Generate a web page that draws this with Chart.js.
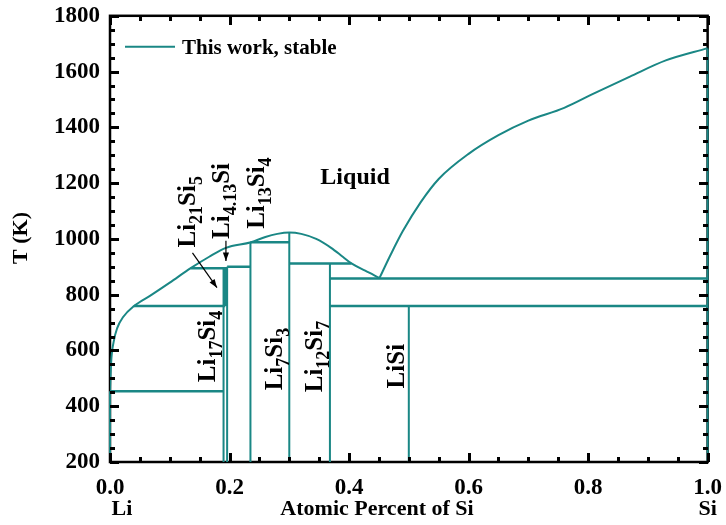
<!DOCTYPE html>
<html>
<head>
<meta charset="utf-8">
<script src="https://cdn.jsdelivr.net/npm/chart.js@4"></script>
<style>
  html, body { margin: 0; padding: 0; background: #fff; }
  #wrap { width: 726px; height: 525px; }
</style>
</head>
<body>
<div id="wrap"><canvas id="chart"></canvas></div>
<script>
// Li-Si phase diagram

const liqLiX = [0, 0.002, 0.006, 0.012, 0.022, 0.04, 0.07, 0.1, 0.135, 0.166, 0.194, 0.236, 0.26, 0.28, 0.3, 0.32, 0.345, 0.37, 0.39, 0.404, 0.427, 0.451];
const liqLiT = [454, 560, 630, 680, 720, 759, 800, 843, 895, 936, 968, 988, 1007, 1018, 1023, 1018, 1000, 968, 935, 912, 886, 860];

const liqSiX = [0.451, 0.47, 0.49, 0.52, 0.55, 0.6, 0.65, 0.7, 0.76, 0.81, 0.87, 0.93, 1.0];
const liqSiT = [860, 945, 1028, 1132, 1215, 1305, 1372, 1424, 1470, 1522, 1582, 1640, 1684];

// invariant lines
const isoT    = [454, 759, 895, 900, 988, 912, 858, 759];
const isoFrom = [0, 0.04, 0.135, 0.196, 0.235, 0.30, 0.368, 0.368];
const isoTo   = [0.19, 0.193, 0.196, 0.235, 0.30, 0.404, 1.0, 1.0];

// compound / element lines
const compX   = [0, 0.190, 0.196, 0.235, 0.300, 0.368, 0.500, 1.0];
const compLow = [200, 200, 200, 200, 200, 200, 200, 200];
const compTop = [454, 895, 900, 988, 1023, 912, 759, 1683];

const thickX = [0.193];
const thickLow = [759];
const thickTop = [895];

// phase labels (_n = subscript)
const phaseLabels = ['Li_21Si_5', 'Li_4.13Si', 'Li_13Si_4', 'Li_17Si_4', 'Li_7Si_3', 'Li_12Si_7', 'LiSi'];
const phaseX = [0.143, 0.199, 0.257, 0.176, 0.287, 0.354, 0.492];
const phaseT = [969, 1000, 1036, 486, 457, 450, 464];

const arrowFromX = [0.138, 0.194];
const arrowFromT = [950, 993];
const arrowToX   = [0.179, 0.194];
const arrowToT   = [825, 921];

const xTicks = [0, 0.2, 0.4, 0.6, 0.8, 1.0];
const yTicks = [200, 400, 600, 800, 1000, 1200, 1400, 1600, 1800];
const xMinorStep = 0.05;
const yMinorStep = 50;

const TEAL = '#1a8785';
const FONT = '"Liberation Serif", "DejaVu Serif", serif';

function pts(xs, ys) {
  return xs.map((x, i) => ({ x: x, y: ys[i] }));
}

function segments(from, to, y0, y1) {
  const out = [];
  from.forEach((a, i) => {
    out.push({ x: a, y: y0[i] });
    out.push({ x: to[i], y: y1[i] });
    out.push({ x: to[i], y: null });
  });
  return out;
}

const liquidus = pts(liqLiX, liqLiT).concat([{ x: 0.451, y: null }], pts(liqSiX, liqSiT));

const datasets = [
  {
    label: 'This work, stable',
    data: liquidus,
    borderColor: TEAL,
    borderWidth: 2,
    cubicInterpolationMode: 'monotone',
    pointRadius: 0,
    spanGaps: false
  },
  {
    label: 'comp',
    data: segments(compX, compX, compLow, compTop),
    borderColor: TEAL,
    borderWidth: 2,
    tension: 0,
    pointRadius: 0,
    spanGaps: false,
    clip: false
  },
  {
    label: 'iso',
    data: segments(isoFrom, isoTo, isoT, isoT),
    borderColor: TEAL,
    borderWidth: 2.5,
    tension: 0,
    pointRadius: 0,
    spanGaps: false
  },
  {
    label: 'thick',
    data: segments(thickX, thickX, thickLow, thickTop),
    borderColor: TEAL,
    borderWidth: 4,
    tension: 0,
    pointRadius: 0,
    spanGaps: false
  }
];

function drawSubText(ctx, str, size) {
  // splits "Li_21Si_5" into normal / subscript runs
  const parts = str.split(/_([0-9.]+)/);
  let x = 0;
  parts.forEach((p, i) => {
    if (!p) return;
    const sub = i % 2 === 1;
    ctx.font = 'bold ' + (sub ? Math.round(size * 0.7) : size) + 'px ' + FONT;
    ctx.fillText(p, x, sub ? size * 0.28 : 0);
    x += ctx.measureText(p).width;
  });
}

function drawTicks(chart) {
  const c = chart.ctx;
  const a = chart.chartArea;
  const xs = chart.scales.x, ys = chart.scales.y;
  c.save();
  c.fillStyle = 'rgb(0,0,0)';
  const nx = Math.round(1 / xMinorStep);
  for (let i = 0; i <= nx; i++) {
    const px = Math.round(xs.getPixelForValue(i * xMinorStep));
    const len = i % 4 === 0 ? 9 : 5;
    c.fillRect(px - 1, Math.round(a.bottom) - len, 3, len);
    c.fillRect(px - 1, Math.round(a.top), 3, len);
  }
  const ny = Math.round(1600 / yMinorStep);
  for (let j = 0; j <= ny; j++) {
    const py = Math.round(ys.getPixelForValue(200 + j * yMinorStep));
    const len = j % 4 === 0 ? 9 : 5;
    c.fillRect(Math.round(a.left), py - 1, len, 3);
    c.fillRect(Math.round(a.right) - len, py - 1, len, 3);
  }
  c.restore();
}

const framePlugin = {
  id: 'frame',
  beforeDatasetsDraw(chart) {
    const c = chart.ctx;
    const a = chart.chartArea;
    c.save();
    c.strokeStyle = '#000';
    c.lineWidth = 2.5;
    c.strokeRect(a.left, a.top, a.right - a.left, a.bottom - a.top);
    c.restore();
    drawTicks(chart);
  },
  afterDatasetsDraw(chart) {
    const ctx = chart.ctx;
    const a = chart.chartArea;
    const xs = chart.scales.x, ys = chart.scales.y;
    ctx.save();
    ctx.fillStyle = '#000';
    ctx.textBaseline = 'alphabetic';

    // phase labels, rotated
    phaseLabels.forEach((lab, i) => {
      ctx.save();
      ctx.translate(xs.getPixelForValue(phaseX[i]), ys.getPixelForValue(phaseT[i]));
      ctx.rotate(-Math.PI / 2);
      ctx.textAlign = 'left';
      drawSubText(ctx, lab, 25);
      ctx.restore();
    });

    // arrows
    ctx.strokeStyle = '#000';
    ctx.lineWidth = 1.2;
    arrowFromX.forEach((fx, i) => {
      const x0 = xs.getPixelForValue(fx), y0 = ys.getPixelForValue(arrowFromT[i]);
      const x1 = xs.getPixelForValue(arrowToX[i]), y1 = ys.getPixelForValue(arrowToT[i]);
      const ang = Math.atan2(y1 - y0, x1 - x0);
      ctx.beginPath();
      ctx.moveTo(x0, y0); ctx.lineTo(x1, y1);
      ctx.stroke();
      ctx.beginPath();
      ctx.moveTo(x1, y1);
      ctx.lineTo(x1 - 9 * Math.cos(ang - 0.35), y1 - 9 * Math.sin(ang - 0.35));
      ctx.lineTo(x1 - 9 * Math.cos(ang + 0.35), y1 - 9 * Math.sin(ang + 0.35));
      ctx.closePath();
      ctx.fill();
    });

    // Liquid
    ctx.font = 'bold 24px ' + FONT;
    ctx.textAlign = 'left';
    ctx.fillText('Liquid', xs.getPixelForValue(0.352), ys.getPixelForValue(1196));

    // legend
    const lx = a.left + 15, ly = a.top + 31;
    ctx.strokeStyle = TEAL;
    ctx.lineWidth = 2;
    ctx.beginPath();
    ctx.moveTo(lx, ly); ctx.lineTo(lx + 50, ly);
    ctx.stroke();
    ctx.font = 'bold 21px ' + FONT;
    ctx.fillText(chart.data.datasets[0].label, lx + 57, ly + 7);

    // axis titles
    ctx.font = 'bold 22px ' + FONT;
    ctx.textAlign = 'center';
    ctx.fillText('Atomic Percent of Si', 377, a.bottom + 53);
    ctx.fillText('Li', xs.getPixelForValue(0) + 12, a.bottom + 53);
    ctx.fillText('Si', xs.getPixelForValue(1), a.bottom + 53);
    ctx.save();
    ctx.translate(27, 238);
    ctx.rotate(-Math.PI / 2);
    ctx.fillText('T (K)', 0, 0);
    ctx.restore();

    ctx.restore();
  },
  afterDraw(chart) {
    drawTicks(chart);
  }
};

const chartCtx = document.getElementById('chart').getContext('2d');
new Chart(chartCtx, {
  type: 'line',
  data: { datasets: datasets },
  options: {
    responsive: true,
    maintainAspectRatio: false,
    animation: false,
    layout: { padding: { top: 12, right: 14, left: 0, bottom: 0 } },
    plugins: {
      legend: { display: false },
      tooltip: { enabled: false }
    },
    scales: {
      x: {
        type: 'linear',
        min: 0,
        max: 1,
        afterBuildTicks: s => { s.ticks = xTicks.map(v => ({ value: v })); },
        afterFit: s => { s.height = 63; },
        grid: { display: false },
        border: { display: false },
        ticks: {
          color: '#000',
          padding: 4,
          maxRotation: 0,
          font: { family: FONT, size: 23, weight: 'bold' },
          callback: v => v.toFixed(1)
        }
      },
      y: {
        type: 'linear',
        min: 200,
        max: 1800,
        afterBuildTicks: s => { s.ticks = yTicks.map(v => ({ value: v })); },
        afterFit: s => { s.width = 110; },
        grid: { display: false },
        border: { display: false },
        ticks: {
          color: '#000',
          padding: 2,
          font: { family: FONT, size: 23, weight: 'bold' },
          callback: v => String(v)
        }
      }
    }
  },
  plugins: [framePlugin]
});
</script>
</body>
</html>
